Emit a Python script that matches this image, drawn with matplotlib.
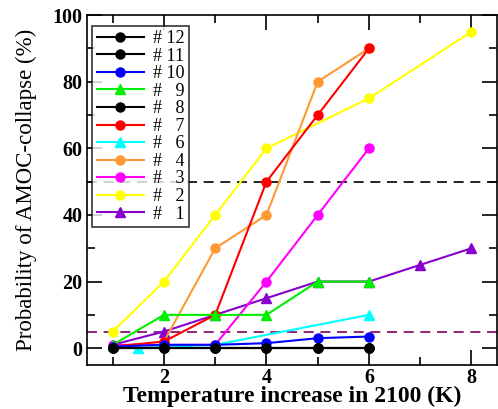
import matplotlib
matplotlib.use("Agg")
import matplotlib.pyplot as plt
from matplotlib.ticker import MultipleLocator

plt.rcParams['font.family'] = ['Liberation Serif', 'DejaVu Serif']

# series: label, colour, marker, x, y
x12 = [1, 2, 3, 4, 5, 6]
y12 = [0, 0, 0, 0, 0, 0]
x11 = [1, 2, 3, 4, 5, 6]
y11 = [0, 0, 0, 0, 0, 0]
x10 = [1, 2, 3, 4, 5, 6]
y10 = [0.5, 1, 1, 1.5, 3, 3.5]
x9 = [1, 2, 3, 4, 5, 6]
y9 = [1, 10, 10, 10, 20, 20]
x8 = [1, 2, 3, 4, 5, 6]
y8 = [0, 0, 0, 0, 0, 0]
x7 = [1, 2, 3, 4, 5, 6]
y7 = [0.5, 2, 10, 50, 70, 90]
x6 = [1.5, 3, 6]
y6 = [0, 1, 10]
x4 = [2, 3, 4, 5, 6]
y4 = [2, 30, 40, 80, 90]
x3 = [1, 2, 3, 4, 5, 6]
y3 = [1, 1, 1, 20, 40, 60]
x2 = [1, 2, 3, 4, 6, 8]
y2 = [5, 20, 40, 60, 75, 95]
x1 = [1, 2, 3, 4, 5, 6, 7, 8]
y1 = [1, 5, 10, 15, 20, 20, 25, 30]

series = [
    ("# 12", "black", "o", x12, y12),
    ("# 11", "black", "o", x11, y11),
    ("# 10", "blue", "o", x10, y10),
    ("#   9", "#00ee00", "^", x9, y9),
    ("#   8", "black", "o", x8, y8),
    ("#   7", "red", "o", x7, y7),
    ("#   6", "cyan", "^", x6, y6),
    ("#   4", "#ff9933", "o", x4, y4),
    ("#   3", "magenta", "o", x3, y3),
    ("#   2", "yellow", "o", x2, y2),
    ("#   1", "#8800cc", "^", x1, y1),
]

fig = plt.figure(figsize=(4.98, 4.09), dpi=100)
ax = fig.add_axes([0.175, 0.108, 0.823, 0.855])

ax.axhline(50, color="black", lw=1.2, ls=(0, (6, 4)), zorder=1)
ax.axhline(5, color="#800060", lw=1.2, ls=(0, (6, 4)), zorder=1)

# draw bottom series first so #12 ends up on top in legend order
for lab, c, m, xs, ys in series[::-1]:
    ax.plot(xs, ys, color=c, marker=m, ms=6.5, lw=1.5, label=lab, zorder=3)

handles, labels = ax.get_legend_handles_labels()
leg = ax.legend(handles[::-1], labels[::-1], loc="upper left",
                bbox_to_anchor=(0.013, 0.97), fontsize=13, frameon=True,
                fancybox=False, edgecolor="black", handlelength=2.6,
                handletextpad=0.5, labelspacing=0.03, borderpad=0.25,
                borderaxespad=0)
leg.get_frame().set_linewidth(1.2)
leg.set_zorder(5)

ax.set_xlim(0.5, 8.5)
ax.set_ylim(-5, 100)
ax.xaxis.set_major_locator(MultipleLocator(2))
ax.xaxis.set_minor_locator(MultipleLocator(1))
ax.yaxis.set_major_locator(MultipleLocator(20))
ax.yaxis.set_minor_locator(MultipleLocator(10))
ax.tick_params(which="both", direction="in", top=True, right=True, width=1.2,
               labelsize=14.5)
ax.tick_params(which="major", length=11)
ax.tick_params(which="minor", length=6)
ax.tick_params(axis="x", pad=2)
for t in ax.get_xticklabels() + ax.get_yticklabels():
    t.set_fontweight("bold")
for s in ax.spines.values():
    s.set_linewidth(1.2)

ax.set_xlabel("Temperature increase in 2100 (K)", fontsize=17, fontweight="bold", labelpad=-1)
ax.set_ylabel("Probability of AMOC-collapse (%)", fontsize=16.5, labelpad=11)

fig.savefig("out.png", dpi=100)
